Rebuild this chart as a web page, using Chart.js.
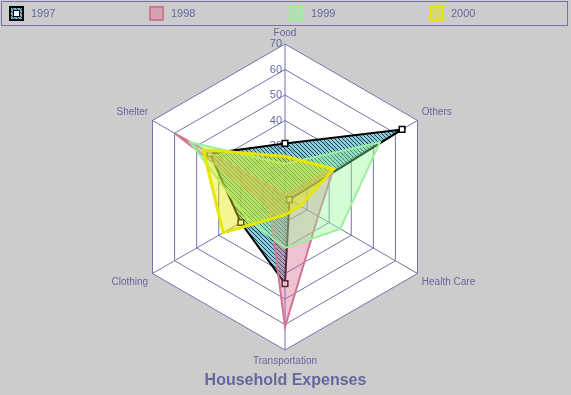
<!DOCTYPE html>
<html>
<head>
<meta charset="utf-8">
<script src="https://cdn.jsdelivr.net/npm/chart.js@4.4.0/dist/chart.umd.min.js"></script>
<style>
  html, body { margin: 0; padding: 0; background: #cccccc; }
  canvas { display: block; }
</style>
</head>
<body>
<canvas id="expensesChart" width="571" height="395"></canvas>
<script>
// Categories and values
const categories = ['Food', 'Others', 'Health Care', 'Transportation', 'Clothing', 'Shelter'];
const years = ['1997', '1998', '1999', '2000'];
const values1997 = [31, 63, 12, 44, 30, 44];
const values1998 = [11, 32, 25, 61, 17, 60];
const values1999 = [23, 53, 35, 30, 27, 53];
const values2000 = [26, 32, 17, 17, 38, 47];
const tickValues = [10, 20, 30, 40, 50, 60, 70];

const gridColor = '#7373a9';
const textColor = '#6767a0';
const fontFamily = 'Arial, "Liberation Sans", sans-serif';

Chart.defaults.font.family = fontFamily;

// teal fill with dark diagonal hatch for 1997
function makeHatch() {
  const c = document.createElement('canvas');
  c.width = 4;
  c.height = 4;
  const g = c.getContext('2d');
  g.fillStyle = 'rgba(70,175,200,0.62)';
  g.fillRect(0, 0, 4, 4);
  g.fillStyle = 'rgba(10,30,40,0.8)';
  for (let i = 0; i < 4; i++) {
    g.fillRect(i, i, 1, 1);
  }
  return document.getElementById('expensesChart').getContext('2d').createPattern(c, 'repeat');
}

// tick numbers along the Food axis, including the 10 at the centre
const tickLabels = {
  id: 'tickLabels',
  beforeDatasetsDraw(chart) {
    const r = chart.scales.r;
    const ctx = chart.ctx;
    ctx.save();
    ctx.font = '11px ' + fontFamily;
    ctx.fillStyle = textColor;
    ctx.textAlign = 'right';
    ctx.textBaseline = 'middle';
    tickValues.forEach(v => {
      ctx.fillText(String(v), r.xCenter - 3, r.yCenter - r.getDistanceFromCenterForValue(v));
    });
    ctx.restore();
  }
};

// legend in a framed strip across the top
const boxLegend = {
  id: 'boxLegend',
  afterDraw(chart) {
    const ctx = chart.ctx;
    ctx.save();
    ctx.strokeStyle = gridColor;
    ctx.lineWidth = 1;
    ctx.strokeRect(1.5, 1.5, chart.width - 5, 24);
    ctx.font = '11px ' + fontFamily;
    ctx.textBaseline = 'middle';
    chart.data.datasets.forEach((ds, i) => {
      const x = 9 + i * 140;
      const y = 6;
      ctx.fillStyle = ds.backgroundColor;
      ctx.fillRect(x, y, 15, 15);
      ctx.strokeStyle = ds.borderColor;
      ctx.lineWidth = 2;
      ctx.strokeRect(x + 1, y + 1, 13, 13);
      if (ds.pointRadius > 0) {
        ctx.fillStyle = '#ffffff';
        ctx.fillRect(x + 4, y + 4, 7, 7);
        ctx.lineWidth = 1;
        ctx.strokeStyle = '#000000';
        ctx.strokeRect(x + 4.5, y + 4.5, 6, 6);
      }
      ctx.fillStyle = textColor;
      ctx.fillText(ds.label, x + 22, y + 8);
    });
    ctx.restore();
  }
};

const ctx = document.getElementById('expensesChart').getContext('2d');

const expensesChart = new Chart(ctx, {
  type: 'radar',
  data: {
    labels: categories,
    datasets: [{
      label: years[0],
      data: values1997,
      borderColor: '#000000',
      borderWidth: 2,
      backgroundColor: makeHatch(),
      fill: true,
      pointStyle: 'rect',
      pointRadius: 4,
      pointBackgroundColor: '#ffffff',
      pointBorderColor: '#000000',
      pointBorderWidth: 1.5,
      order: 4
    }, {
      label: years[1],
      data: values1998,
      borderColor: '#d07592',
      borderWidth: 2,
      backgroundColor: 'rgba(215,100,140,0.4)',
      fill: true,
      pointRadius: 0,
      order: 3
    }, {
      label: years[2],
      data: values1999,
      borderColor: '#9cf09c',
      borderWidth: 2,
      backgroundColor: 'rgba(150,250,150,0.4)',
      fill: true,
      pointRadius: 0,
      order: 2
    }, {
      label: years[3],
      data: values2000,
      borderColor: '#e6e600',
      borderWidth: 3,
      backgroundColor: 'rgba(232,232,0,0.42)',
      fill: true,
      pointRadius: 0,
      order: 1
    }]
  },
  options: {
    responsive: false,
    maintainAspectRatio: false,
    animation: false,
    devicePixelRatio: 1,
    layout: { padding: { top: 27, bottom: 0, left: 0, right: 0 } },
    elements: { line: { tension: 0 } },
    plugins: {
      legend: { display: false },
      tooltip: { enabled: false },
      title: {
        display: true,
        position: 'bottom',
        text: 'Household Expenses',
        color: textColor,
        font: { size: 16, weight: 'bold' },
        padding: { top: 2, bottom: 5 }
      }
    },
    scales: {
      r: {
        min: 10,
        max: 70,
        backgroundColor: '#ffffff',
        ticks: { display: false, stepSize: 10 },
        grid: { color: gridColor, lineWidth: 1 },
        angleLines: { color: gridColor, lineWidth: 1 },
        pointLabels: { color: textColor, font: { size: 10 }, padding: 5 }
      }
    }
  },
  plugins: [tickLabels, boxLegend]
});
</script>
</body>
</html>
